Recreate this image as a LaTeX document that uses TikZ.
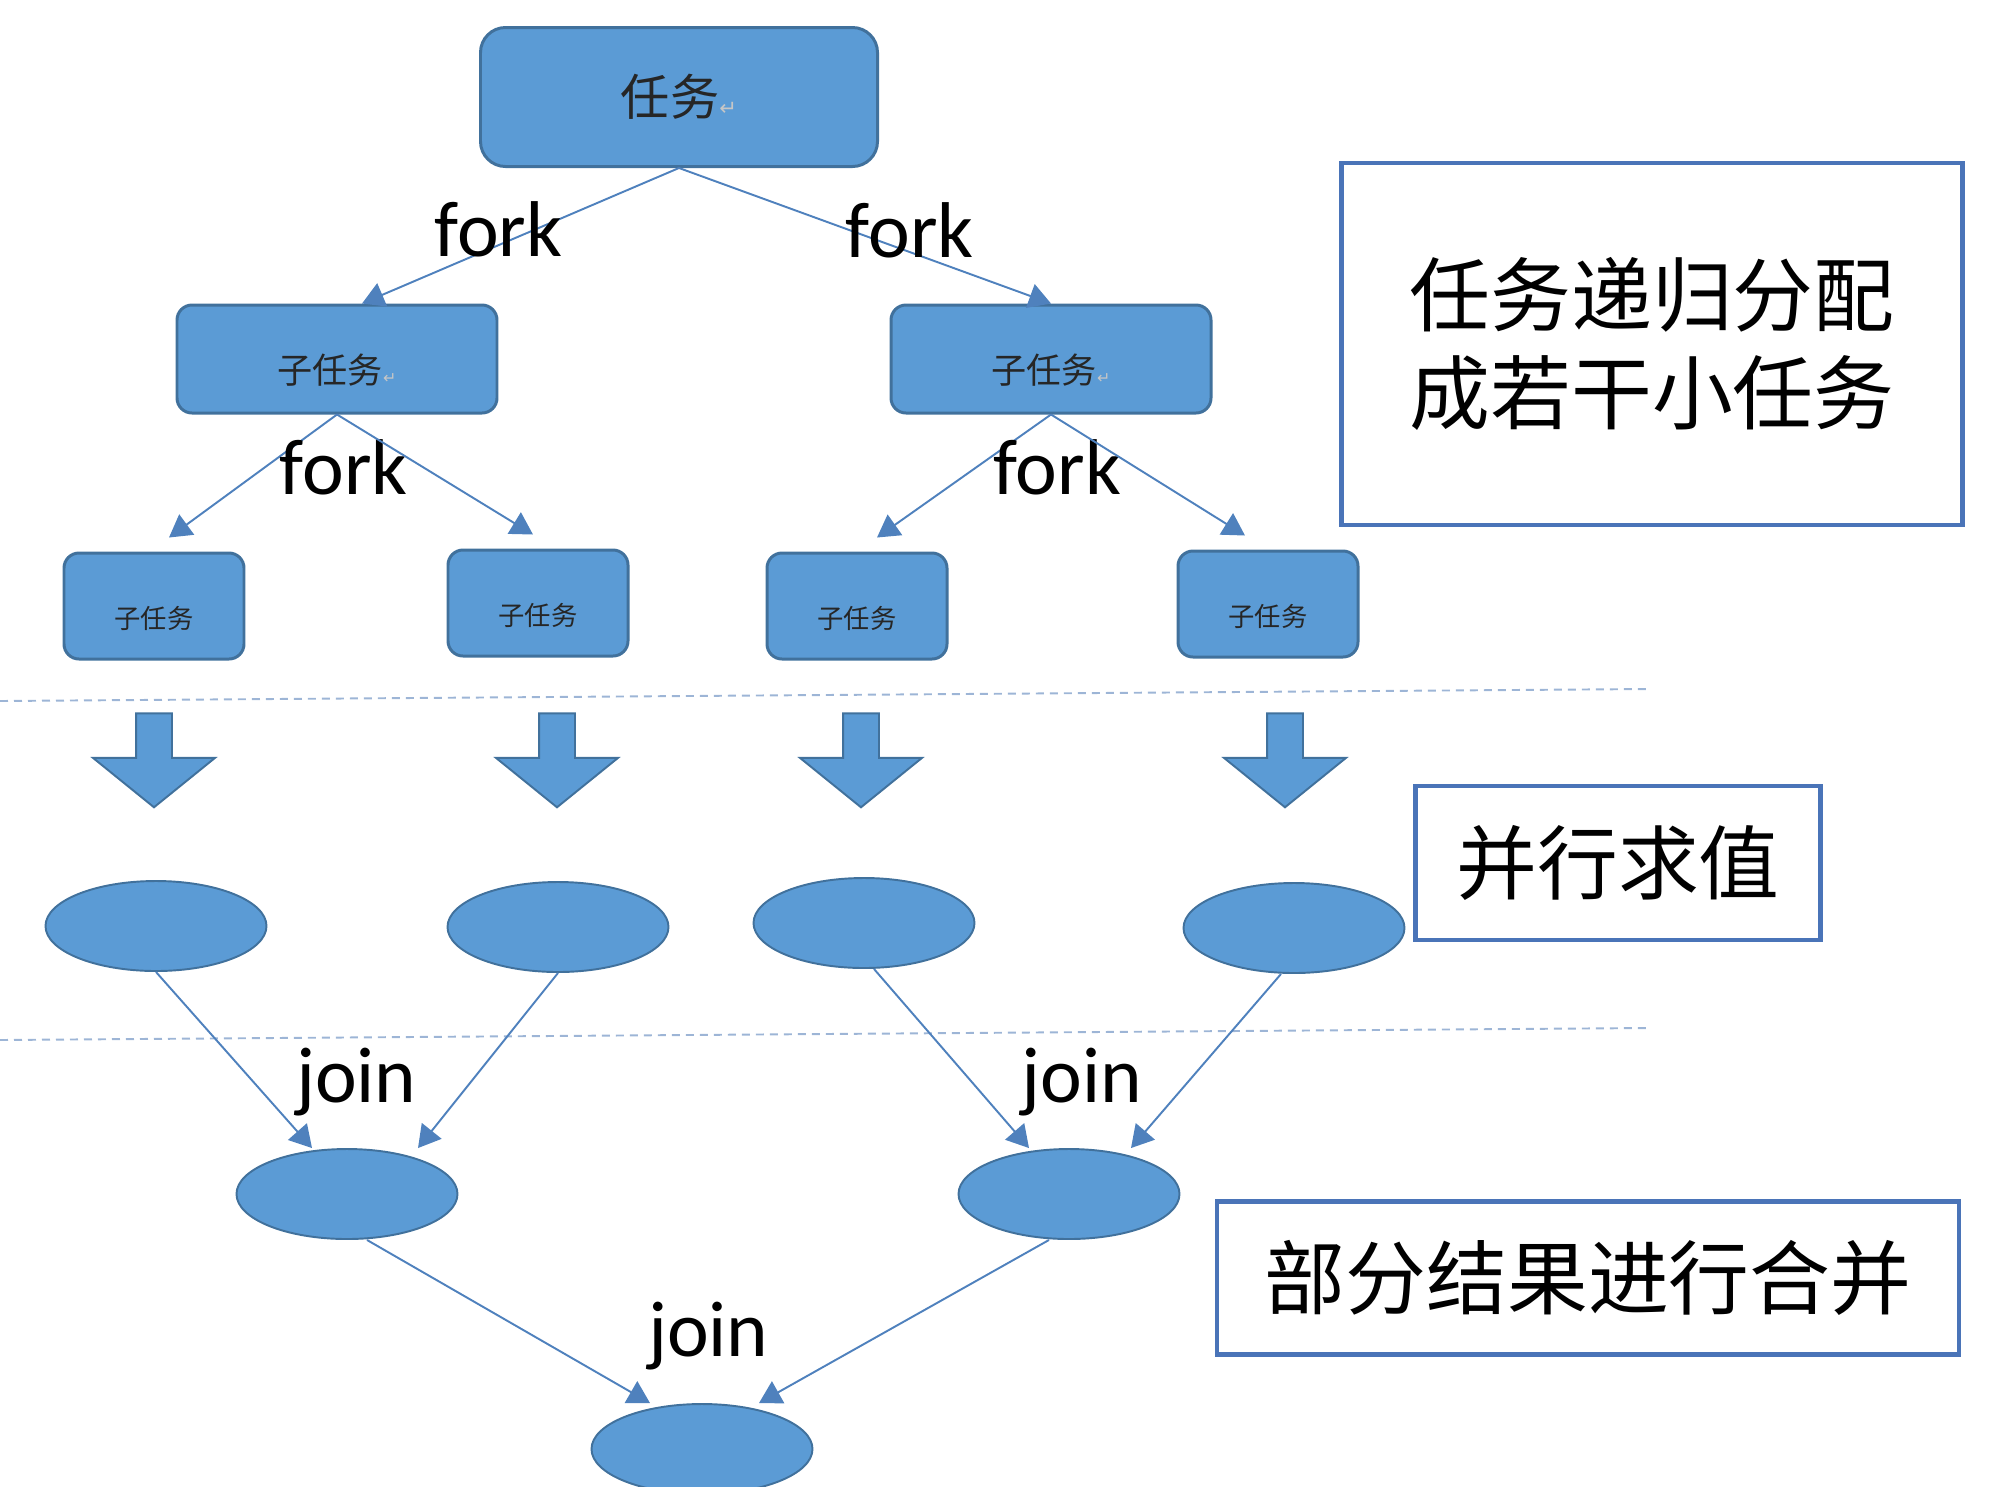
\documentclass[tikz,border=0pt]{standalone}
\usepackage{fontspec}
\setmainfont{Carlito}
\newfontfamily\cjk{Noto Sans CJK SC}
\newfontfamily\retfont{DejaVu Sans}
\usetikzlibrary{positioning,shapes.geometric,shapes.arrows,arrows.meta}
\definecolor{boxfill}{HTML}{5B9BD5}
\definecolor{boxline}{HTML}{41719C}
\definecolor{linkblue}{HTML}{4F81BD}
\definecolor{noteline}{HTML}{4A74B8}
\definecolor{dashblue}{HTML}{9DB5D6}
\newcommand{\retmark}[1]{{\retfont\color{gray!45}\fontsize{#1}{#1}\selectfont ↵}}
\begin{document}
\begin{tikzpicture}[
    font=\cjk,
    taskbox/.style={rectangle, draw=boxline, line width=1.7pt, fill=boxfill, text=black!85, rounded corners=0.5cm, minimum width=7.94cm, minimum height=2.78cm, inner sep=0pt},
    subbox/.style={rectangle, draw=boxline, line width=1.7pt, fill=boxfill, text=black!85, rounded corners=0.3cm, minimum width=6.4cm, minimum height=2.16cm, inner sep=0pt, text height=28pt, text depth=0pt},
    leafbox/.style={rectangle, draw=boxline, line width=1.7pt, fill=boxfill, text=black!85, rounded corners=0.3cm, minimum width=3.6cm, minimum height=2.12cm, inner sep=0pt, text height=26pt, text depth=0pt},
    result/.style={ellipse, draw=boxline, line width=1.1pt, fill=boxfill, minimum width=4.42cm, minimum height=1.8cm, inner sep=0pt},
    downarrow/.style={single arrow, draw=boxline, line width=1.1pt, fill=boxfill, shape border rotate=270, minimum height=1.88cm, minimum width=2.4cm, single arrow head extend=0.86cm, single arrow tip angle=102, inner sep=0pt},
    notebox/.style={rectangle, draw=noteline, line width=2.8pt, fill=white, align=center, inner sep=0pt, font=\cjk\fontsize{46}{56}\selectfont},
    arrow/.style={-{Triangle[length=0.44cm, width=0.5cm]}, draw=linkblue, fill=linkblue, line width=1.1pt},
    edgelabel/.style={font=\normalfont\fontsize{45}{54}\selectfont, inner sep=0pt, text=black},
    divider/.style={dash pattern=on 0.16cm off 0.12cm, draw=dashblue, line width=1.1pt},
]
    \useasboundingbox (0,0) rectangle (40,-29.72);

    % Task and its subtasks
    \node[taskbox] (task) at (13.58,-1.94) {\fontsize{28}{34}\selectfont 任务\retmark{12}};
    \node[subbox, below of=task, xshift=-6.84cm, yshift=-4.24cm] (sub1) {\fontsize{20}{24}\selectfont 子任务\retmark{9}};
    \node[subbox, below of=task, xshift=7.44cm, yshift=-4.24cm] (sub2) {\fontsize{20}{24}\selectfont 子任务\retmark{9}};

    % Smallest tasks
    \node[leafbox, below of=sub1, xshift=-3.66cm, yshift=-3.94cm] (leaf1) {\fontsize{15}{18}\selectfont 子任务};
    \node[leafbox, below of=sub1, xshift=4.02cm, yshift=-3.88cm] (leaf2) {\fontsize{15}{18}\selectfont 子任务};
    \node[leafbox, below of=sub2, xshift=-3.88cm, yshift=-3.94cm] (leaf3) {\fontsize{15}{18}\selectfont 子任务};
    \node[leafbox, below of=sub2, xshift=4.34cm, yshift=-3.90cm] (leaf4) {\fontsize{15}{18}\selectfont 子任务};

    % Parallel evaluation
    \node[downarrow, below of=leaf1, yshift=-1.94cm] (arr1) {\phantom{\rule{0.68cm}{0.68cm}}};
    \node[downarrow, below of=leaf2, xshift=0.38cm, yshift=-2.00cm] (arr2) {\phantom{\rule{0.68cm}{0.68cm}}};
    \node[downarrow, below of=leaf3, xshift=0.08cm, yshift=-1.94cm] (arr3) {\phantom{\rule{0.68cm}{0.68cm}}};
    \node[downarrow, below of=leaf4, xshift=0.34cm, yshift=-1.98cm] (arr4) {\phantom{\rule{0.68cm}{0.68cm}}};

    \node[result, below of=arr1, xshift=0.04cm, yshift=-2.46cm] (res1) {};
    \node[result, below of=arr2, xshift=0.02cm, yshift=-2.48cm] (res2) {};
    \node[result, below of=arr3, xshift=0.06cm, yshift=-2.40cm] (res3) {};
    \node[result, below of=arr4, xshift=0.18cm, yshift=-2.50cm] (res4) {};

    % Partial results
    \node[result, below of=res1, xshift=3.82cm, yshift=-4.36cm] (mid1) {};
    \node[result, below of=res3, xshift=4.10cm, yshift=-4.42cm] (mid2) {};
    \node[result, below of=mid1, xshift=7.10cm, yshift=-4.10cm] (final) {};

    % Notes on the right
    \node[notebox, right of=task, xshift=18.46cm, yshift=-4.94cm, minimum width=12.42cm, minimum height=7.24cm] (splitnote) {任务递归分配\\成若干小任务};
    \node[notebox, right of=res4, xshift=5.48cm, yshift=1.30cm, minimum width=8.1cm, minimum height=3.08cm] (evalnote) {并行求值};
    \node[notebox, right of=mid2, xshift=9.38cm, yshift=-1.68cm, minimum width=14.84cm, minimum height=3.06cm] (mergenote) {部分结果进行合并};

    % Dashed separators
    \draw[divider] (0,-14.02) -- (33,-13.78);
    \draw[divider] (0,-20.80) -- (33,-20.56);

    % fork arrows
    \draw[arrow] (task.south) -- ([xshift=0.5cm]sub1.north) node[pos=0.57, yshift=0.32cm, edgelabel] (forka) {fork};
    \draw[arrow] (task.south) -- (sub2.north) node[pos=0.62, yshift=0.44cm, edgelabel] (forkb) {fork};
    \draw[arrow] (sub1.south) -- ([xshift=0.3cm, yshift=0.28cm]leaf1.north) node[pos=0.43, xshift=1.58cm, edgelabel] (forkc) {fork};
    \draw[arrow] (sub1.south) -- ([xshift=-0.1cm, yshift=0.28cm]leaf2.north);
    \draw[arrow] (sub2.south) -- ([xshift=0.4cm, yshift=0.28cm]leaf3.north) node[pos=0.43, xshift=1.62cm, edgelabel] (forkd) {fork};
    \draw[arrow] (sub2.south) -- ([xshift=-0.46cm, yshift=0.28cm]leaf4.north);

    % join arrows
    \draw[arrow] (res1.south) -- ([xshift=-0.7cm]mid1.north) node[pos=0.74, anchor=base, xshift=1.7cm, edgelabel] (joina) {join};
    \draw[arrow] (res2.south) -- ([xshift=1.42cm]mid1.north);
    \draw[arrow] ([xshift=0.2cm]res3.south) -- ([xshift=-0.8cm]mid2.north) node[pos=0.746, anchor=base, xshift=1.84cm, edgelabel] (joinb) {join};
    \draw[arrow] ([xshift=-0.26cm]res4.south) -- ([xshift=1.24cm]mid2.north);
    \draw[arrow] ([xshift=0.4cm]mid1.south) -- ([xshift=-1.04cm]final.north) node[pos=0.715, anchor=base, xshift=2.78cm, edgelabel] (joinc) {join};
    \draw[arrow] ([xshift=-0.4cm]mid2.south) -- ([xshift=1.14cm]final.north);

\end{tikzpicture}
\end{document}
